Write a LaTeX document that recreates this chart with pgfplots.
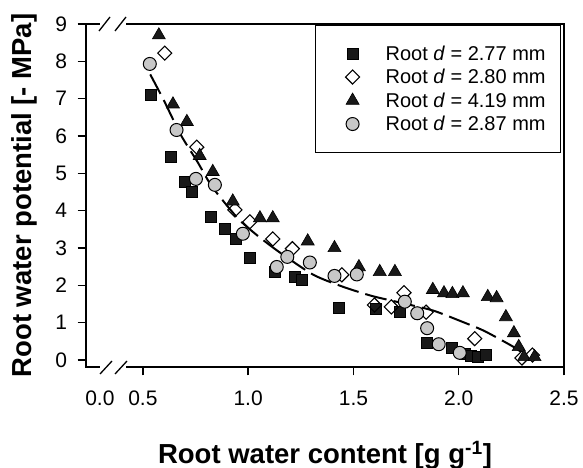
\documentclass[border=0pt]{standalone}
\usepackage{fontspec}
\setmainfont{Liberation Sans}
\usepackage{pgfplots}
\pgfplotsset{compat=1.18}

\definecolor{circgray}{HTML}{C8C8C8}
\newcommand{\lstrut}{\rule[-1.5pt]{0pt}{16pt}}

\begin{document}
\begin{tikzpicture}
\useasboundingbox (0,0) rectangle (583pt,468pt);
\begin{axis}[
    at={(86pt,101pt)}, anchor=south west,
    scale only axis, width=478pt, height=343pt,
    xmin=0.23, xmax=2.5, ymin=-0.19, ymax=9,
    xtick={0.5,1.0,1.5,2.0,2.5},
    xticklabels={0.5,1.0,1.5,2.0,2.5},
    ytick={0,1,2,3,4,5,6,7,8,9},
    extra x ticks={0.296},
    extra x tick labels={0.0},
    extra x tick style={major tick style={draw=none}},
    tick align=outside, major tick length=8.5pt,
    xtick pos=bottom, ytick pos=left,
    axis line style={line width=1.6pt},
    tick style={line width=1.4pt, black},
    tick label style={font=\fontsize{21}{24}\selectfont},
    xticklabel style={yshift=-12pt},
    yticklabel style={xshift=-7pt},
    /pgf/number format/assume math mode=true,
    xlabel={Root water content [g g\textsuperscript{-1}]},
    ylabel={Root water potential [- MPa]},
    label style={font=\fontsize{27.5}{30}\selectfont\bfseries},
    xlabel style={at={(axis description cs:0.5,-0.28)}, anchor=base},
    ylabel style={at={(axis description cs:-0.113,0.5)}, anchor=base},
    legend cell align=left,
    legend image code/.code={
        \path[draw=none] (0pt,-5pt) rectangle (31pt,5pt);
        \draw[mark repeat=2,mark phase=2,#1] plot coordinates {(0pt,0pt) (23pt,0pt) (31pt,0pt)};
    },
    legend style={
        at={(rel axis cs:0.994,0.997)}, anchor=north east,
        draw=black, line width=1pt,
        font=\fontsize{20}{22}\selectfont,
        inner xsep=14pt, inner ysep=19pt,
        row sep=5.5pt, column sep=24pt,
        nodes={inner sep=1pt},
    },
]

% fitted curve
\addplot[forget plot, black, line width=2pt, dash pattern=on 22pt off 7pt, smooth, tension=0.4]
coordinates {
    (0.535,7.65) (0.60,6.95) (0.68,6.03) (0.76,5.30) (0.83,4.63)
    (0.95,3.80) (1.04,3.35) (1.15,2.88) (1.31,2.28) (1.45,1.96)
    (1.59,1.71) (1.75,1.50) (1.88,1.32) (2.00,1.06) (2.12,0.78)
    (2.26,0.35) (2.32,0.12)
};

% Root d = 2.77 mm
\addplot[only marks, mark=square*, mark size=5.5pt,
    mark options={fill=black!90, draw=black, line width=0.8pt}]
coordinates {
    (0.538,7.10) (0.633,5.44) (0.700,4.77) (0.733,4.49) (0.822,3.84)
    (0.890,3.52) (0.940,3.24) (1.008,2.72) (1.128,2.36) (1.220,2.22)
    (1.255,2.14) (1.430,1.40) (1.606,1.36) (1.720,1.29) (1.850,0.46)
    (1.967,0.32) (2.030,0.16) (2.060,0.12) (2.090,0.09) (2.130,0.14)
};
\addlegendentry{\lstrut Root \textit{d} = 2.77 mm}

% Root d = 2.80 mm
\addplot[only marks, mark=square, mark size=5pt,
    mark options={rotate=45, fill=white, draw=black, line width=1.1pt}]
coordinates {
    (0.604,8.22) (0.756,5.70) (0.937,4.02) (1.008,3.70) (1.117,3.24)
    (1.210,2.98) (1.445,2.28) (1.600,1.47) (1.680,1.42) (1.740,1.80)
    (1.845,1.28) (2.076,0.57) (2.300,0.05) (2.350,0.13)
};
\addlegendentry{\lstrut Root \textit{d} = 2.80 mm}

% Root d = 4.19 mm
\addplot[only marks, mark=triangle*, mark size=7.5pt,
    mark options={fill=black!90, draw=black, line width=0.6pt}]
coordinates {
    (0.576,8.70) (0.643,6.85) (0.709,6.38) (0.770,5.47) (0.832,5.04)
    (0.927,4.25) (1.056,3.80) (1.117,3.80) (1.283,3.18) (1.410,3.00)
    (1.526,2.49) (1.625,2.36) (1.697,2.36) (1.877,1.88) (1.930,1.79)
    (1.970,1.77) (2.020,1.79) (2.138,1.69) (2.180,1.66) (2.224,1.15)
    (2.262,0.72) (2.285,0.35) (2.310,0.08) (2.360,0.08)
};
\addlegendentry{\lstrut Root \textit{d} = 4.19 mm}

% Root d = 2.87 mm
\addplot[only marks, mark=*, mark size=6.5pt,
    mark options={fill=circgray, draw=black, line width=1pt}]
coordinates {
    (0.533,7.93) (0.660,6.16) (0.752,4.85) (0.842,4.69) (0.975,3.38)
    (1.136,2.49) (1.186,2.76) (1.293,2.61) (1.410,2.25) (1.516,2.29)
    (1.744,1.56) (1.803,1.25) (1.850,0.85) (1.905,0.42) (2.005,0.19)
};
\addlegendentry{\lstrut Root \textit{d} = 2.87 mm}

\end{axis}

% axis break marks
\fill[white] (100pt,95pt) rectangle (126pt,107pt);
\fill[white] (100pt,438pt) rectangle (126pt,450pt);
\draw[line width=1.3pt] (100pt,94pt) -- (112pt,107pt);
\draw[line width=1.3pt] (115pt,94pt) -- (127pt,107pt);
\draw[line width=1.3pt] (99pt,437pt) -- (110pt,451pt);
\draw[line width=1.3pt] (115pt,437pt) -- (126pt,451pt);
\end{tikzpicture}
\end{document}
